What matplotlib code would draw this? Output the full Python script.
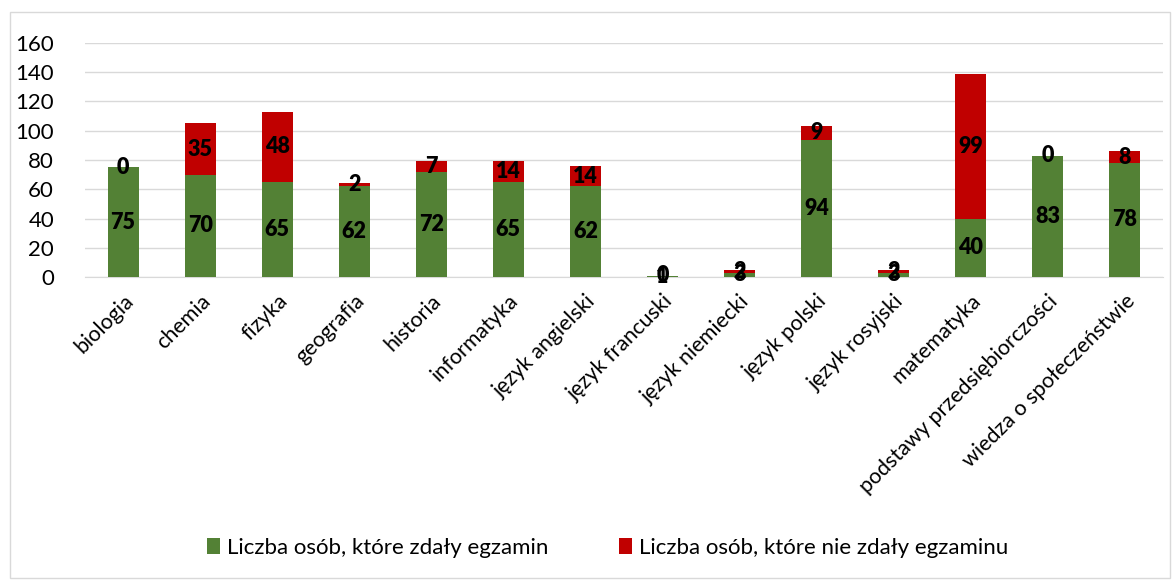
import matplotlib
matplotlib.use("Agg")
import matplotlib.pyplot as plt
import matplotlib.patches as patches
import numpy as np

plt.rcParams['font.family'] = ['Lato', 'DejaVu Sans']

przedmioty = ['biologia', 'chemia', 'fizyka', 'geografia', 'historia',
              'informatyka', 'język angielski', 'język francuski',
              'język niemiecki', 'język polski', 'język rosyjski',
              'matematyka', 'podstawy przedsiębiorczości',
              'wiedza o społeczeństwie']
zdaly = [75, 70, 65, 62, 72, 65, 62, 1, 3, 94, 3, 40, 83, 78]
nie_zdaly = [0, 35, 48, 2, 7, 14, 14, 0, 2, 9, 2, 99, 0, 8]

zielony = '#538135'
czerwony = '#C00000'

fig = plt.figure(figsize=(11.75, 5.8), dpi=100)
ax = fig.add_axes([0.072, 0.5224, 0.918, 0.4035])

x = np.arange(len(przedmioty))
b1 = ax.bar(x, zdaly, width=0.4, color=zielony,
            label='Liczba osób, które zdały egzamin', zorder=3)
b2 = ax.bar(x, nie_zdaly, width=0.4, bottom=zdaly, color=czerwony,
            label='Liczba osób, które nie zdały egzaminu', zorder=3)

# etykiety danych - srodek kazdego segmentu
for i in range(len(przedmioty)):
    ax.text(x[i], zdaly[i] / 2, str(zdaly[i]), ha='center', va='center',
            fontsize=15.5, fontweight='heavy', color='black', zorder=4)
    ax.text(x[i], zdaly[i] + nie_zdaly[i] / 2, str(nie_zdaly[i]),
            ha='center', va='center', fontsize=15.5, fontweight='heavy',
            color='black', zorder=4)

ax.set_ylim(0, 160)
ax.set_xlim(-0.5, len(przedmioty) - 0.5)
ax.set_yticks(range(0, 161, 20))
ax.yaxis.grid(True, color='#d9d9d9', linewidth=1, zorder=0)
ax.set_axisbelow(True)
for s in ['top', 'right', 'left']:
    ax.spines[s].set_visible(False)
ax.spines['bottom'].set_color('#d9d9d9')
ax.tick_params(axis='both', length=0, colors='black')
ax.tick_params(axis='y', pad=22, labelsize=16)
ax.tick_params(axis='x', pad=10)
ax.set_xticks(x)
ax.set_xticklabels(przedmioty, rotation=45, ha='right', rotation_mode='anchor',
                   fontsize=15.5)

fig.legend(handles=[b1, b2], loc='center', bbox_to_anchor=(0.517, 0.055),
           ncol=2, frameon=False, fontsize=16, handlelength=0.6,
           handleheight=0.75, handletextpad=0.3, columnspacing=3.2)

ramka = patches.Rectangle((10 / 1175, 2 / 580), 1160 / 1175, 566 / 580,
                          transform=fig.transFigure, fill=False,
                          edgecolor='#d9d9d9', linewidth=1)
fig.patches.append(ramka)

fig.savefig('out.png', dpi=100)
